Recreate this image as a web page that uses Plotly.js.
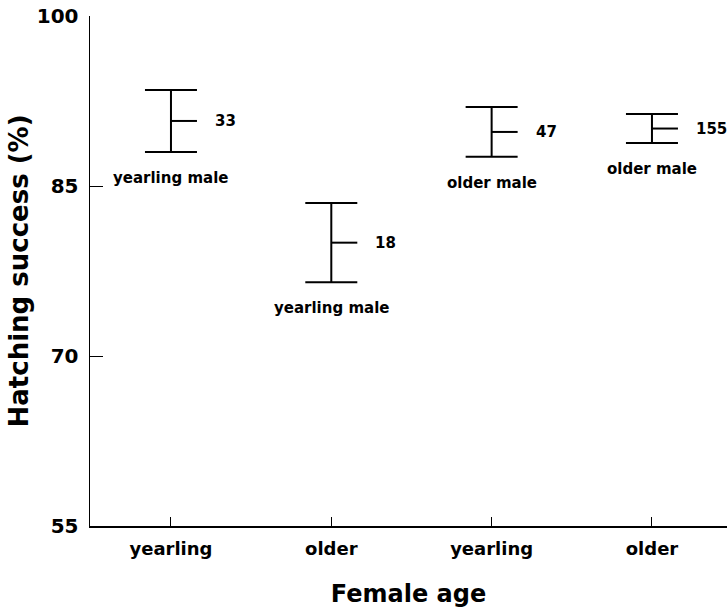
<!DOCTYPE html>
<html>
<head>
<meta charset="utf-8">
<script src="https://cdn.plot.ly/plotly-3.0.1.min.js"></script>
<style>html,body{margin:0;padding:0;background:#fff;}#chart{width:727px;height:610px;}</style>
</head>
<body>
<div id="chart"></div>
<script>
// ---- data ----
var femaleAge = ["yearling", "older", "yearling", "older"];
var maleAge = ["yearling male", "yearling male", "older male", "older male"];
var hatchMean = [90.74, 80.0, 89.77, 90.07];
var hatchErr = [2.73, 3.5, 2.2, 1.28];
var sampleN = ["33", "18", "47", "155"];
var yTicks = [55, 70, 85, 100];

// ---- style ----
var FONT = "DejaVu Sans, Arial, sans-serif";
var capHalfPx = 26;
var pxPerCat = 160.33;
var idx = femaleAge.map(function (d, i) { return i; });

var trace = {
  type: "scatter",
  mode: "markers",
  x: idx,
  y: hatchMean,
  marker: { size: 1, color: "rgba(0,0,0,0)" },
  error_y: { type: "data", array: hatchErr, symmetric: true, color: "#000", thickness: 2, width: capHalfPx },
  error_x: { type: "data", array: idx.map(function () { return capHalfPx / pxPerCat; }), arrayminus: idx.map(function () { return 0; }), symmetric: false, color: "#000", thickness: 2, width: 0 },
  hoverinfo: "skip",
  showlegend: false
};

var annotations = [];
idx.forEach(function (i) {
  annotations.push({
    x: i, y: hatchMean[i], xref: "x", yref: "y",
    text: "<b>" + sampleN[i] + "</b>", showarrow: false,
    xanchor: "left", yanchor: "middle", xshift: 42,
    font: { family: FONT, size: 15, color: "#000" }
  });
  annotations.push({
    x: i, y: hatchMean[i] - hatchErr[i], xref: "x", yref: "y",
    text: "<b>" + maleAge[i] + "</b>", showarrow: false,
    xanchor: "center", yanchor: "middle", yshift: -26,
    font: { family: FONT, size: 15, color: "#000" }
  });
});

var layout = {
  width: 727, height: 610,
  margin: { l: 90, r: 0, t: 16, b: 84 },
  paper_bgcolor: "#fff", plot_bgcolor: "#fff",
  showlegend: false,
  font: { family: FONT, color: "#000" },
  xaxis: {
    range: [-0.505, 3.468],
    tickmode: "array", tickvals: idx,
    ticktext: femaleAge.map(function (t) { return "<b>" + t + "</b>"; }),
    ticks: "inside", ticklen: 9, tickwidth: 1, tickcolor: "#000",
    showline: true, linecolor: "#000", linewidth: 1.5,
    showgrid: false, zeroline: false,
    tickfont: { family: FONT, size: 18, color: "#000" },
    ticklabelstandoff: 6,
    title: { text: "<b>Female age</b>", font: { family: FONT, size: 24, color: "#000" }, standoff: 27 }
  },
  yaxis: {
    range: [55, 100],
    tickmode: "array", tickvals: yTicks,
    ticktext: yTicks.map(function (t) { return "<b>" + t + "</b>"; }),
    ticks: "inside", ticklen: 13, tickwidth: 1, tickcolor: "#000",
    showline: true, linecolor: "#000", linewidth: 1.5,
    showgrid: false, zeroline: false,
    tickfont: { family: FONT, size: 20, color: "#000" },
    ticklabelstandoff: 6,
    title: { text: "<b>Hatching success (%)</b>", font: { family: FONT, size: 26, color: "#000" }, standoff: 0 }
  },
  annotations: annotations
};

Plotly.newPlot("chart", [trace], layout, { staticPlot: true, displayModeBar: false });
</script>
</body>
</html>
